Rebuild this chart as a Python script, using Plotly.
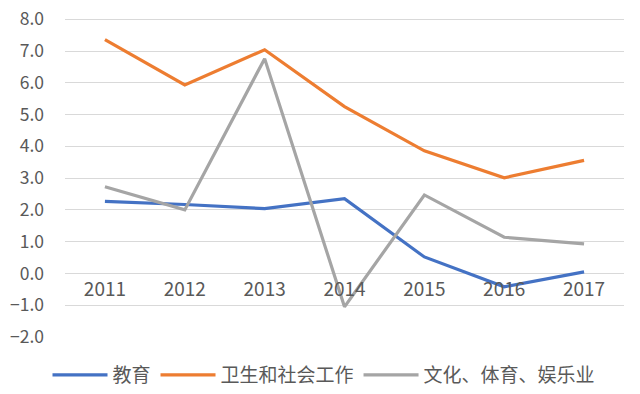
import plotly.graph_objects as go

years = ["2011", "2012", "2013", "2014", "2015", "2016", "2017"]
edu = [2.27, 2.17, 2.04, 2.35, 0.52, -0.42, 0.05]
health = [7.36, 5.93, 7.04, 5.25, 3.86, 3.01, 3.56]
culture = [2.73, 2.0, 6.76, -1.05, 2.47, 1.14, 0.93]

names = ["教育", "卫生和社会工作", "文化、体育、娱乐业"]
colors = ["#4472C4", "#ED7D31", "#A5A5A5"]
font_family = "Noto Sans CJK SC, Noto Sans, sans-serif"

fig = go.Figure()
for name, vals, c in zip(names, [edu, health, culture], colors):
    fig.add_trace(go.Scatter(x=years, y=vals, mode="lines", name=name,
                             line=dict(color=c, width=3.2)))

ymin, ymax = -2.0, 8.07
fig.update_layout(
    width=640, height=394,
    margin=dict(l=57, r=24, t=9, b=65, autoexpand=False),
    plot_bgcolor="white", paper_bgcolor="white",
    font=dict(family=font_family, color="#595959", size=18),
    showlegend=True,
    legend=dict(orientation="h", x=316 / 640, xanchor="center", xref="container",
                y=1 - 367 / 394, yanchor="middle", yref="container",
                font=dict(size=19, color="#595959"), itemwidth=55,
                tracegroupgap=0),
    xaxis=dict(type="category", range=[-0.5, 6.5], anchor="free",
               position=(0 - ymin) / (ymax - ymin), automargin=False,
               showgrid=False, showline=False, ticks="", zeroline=False,
               ticklabelstandoff=3, ticklabeloverflow="allow",
               tickfont=dict(size=19, color="#595959")),
    yaxis=dict(range=[ymin, ymax], dtick=1, tick0=0, tickformat=".1f", showgrid=True,
               automargin=False, ticklabeloverflow="allow",
               gridcolor="#D9D9D9", gridwidth=1.3, zeroline=True, zerolinecolor="#D9D9D9",
               zerolinewidth=1.3, showline=False, ticks="", ticklabelstandoff=20,
               tickfont=dict(size=17.5, color="#595959")),
)
fig.write_html("out.html")
